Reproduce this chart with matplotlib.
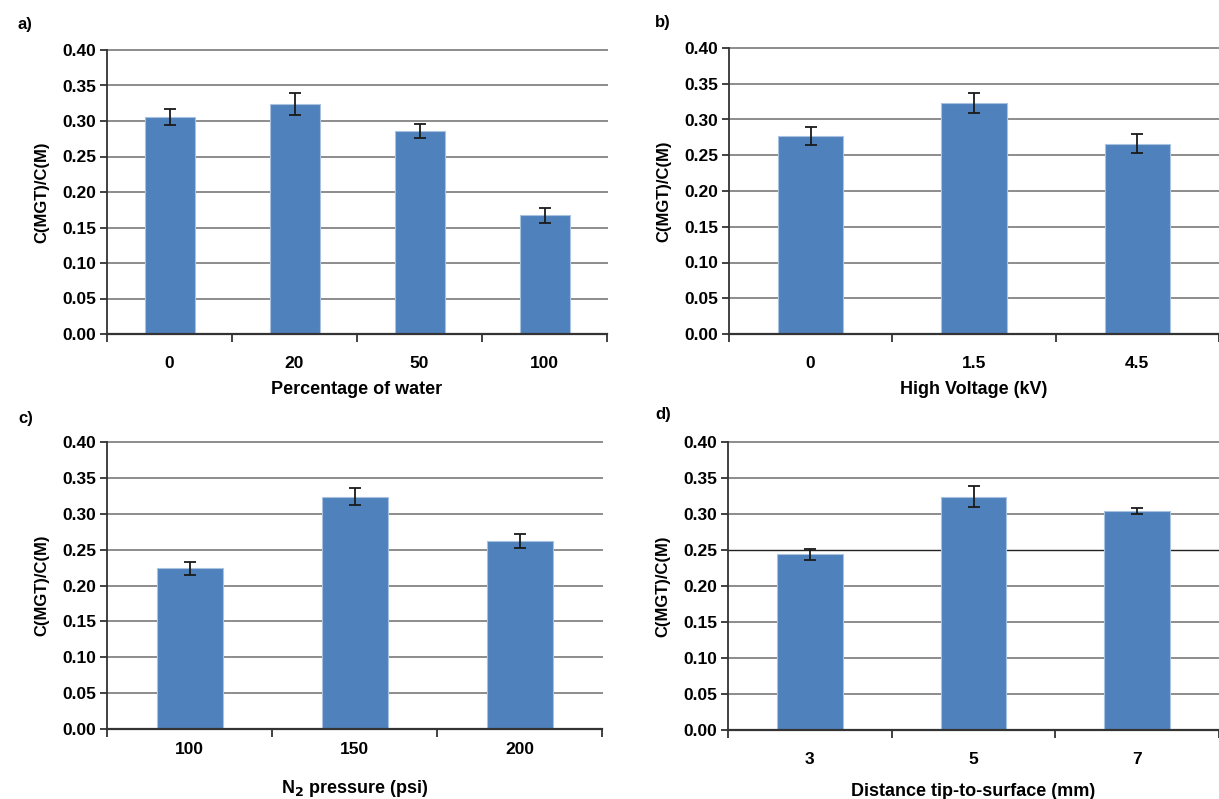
import matplotlib
matplotlib.use('Agg')
import matplotlib.pyplot as plt
import numpy as np

plt.rcParams['font.family'] = ['Liberation Sans', 'DejaVu Sans']
plt.rcParams['font.weight'] = 'bold'

# data
water_cats = ['0', '20', '50', '100']
water_vals = [0.306, 0.324, 0.286, 0.167]
water_err = [0.011, 0.015, 0.010, 0.011]

voltage_cats = ['0', '1.5', '4.5']
voltage_vals = [0.277, 0.323, 0.266]
voltage_err = [0.012, 0.0135, 0.0135]

pressure_cats = ['100', '150', '200']
pressure_vals = [0.224, 0.324, 0.262]
pressure_err = [0.009, 0.0125, 0.0095]

dist_cats = ['3', '5', '7']
dist_vals = [0.244, 0.324, 0.304]
dist_err = [0.008, 0.0145, 0.0045]

W, H = 1219, 799
bar_color = '#4F81BD'


def px_axes(fig, left, right, top, bottom):
    return fig.add_axes([left / W, (H - bottom) / H, (right - left) / W, (bottom - top) / H])


def draw_panel(ax, cats, vals, err, xlabel, xmax=None, dark_grid=None, tickpad=16, labelpad=7):
    x = np.arange(len(cats))
    ax.set_axisbelow(True)
    ax.bar(x, vals, width=0.4, color=bar_color, edgecolor='#a9c2e0', linewidth=0.8, zorder=2)
    ax.errorbar(x, vals, yerr=err, fmt='none', ecolor='#1a1a1a', elinewidth=1.3,
                capsize=4.5, capthick=1.3, zorder=3)
    ax.set_ylim(0, 0.40)
    ax.set_yticks(np.arange(0, 0.401, 0.05))
    ax.set_yticklabels(['%.2f' % v for v in np.arange(0, 0.401, 0.05)])
    ax.set_xlim(-0.5, xmax if xmax is not None else len(cats) - 0.5)
    ax.set_xticks(x)
    ax.set_xticklabels(cats)
    ax.set_xticks(np.arange(-0.5, len(cats), 1.0), minor=True)
    ax.tick_params(axis='x', which='major', length=0, pad=tickpad, labelsize=12.5)
    ax.tick_params(axis='x', which='minor', length=6, width=1.3, color='#333333', direction='out')
    ax.tick_params(axis='y', length=5, width=1.3, color='#333333', labelsize=12.5, pad=3)
    for t in ax.get_xticklabels() + ax.get_yticklabels():
        t.set_fontweight('bold')
    ax.grid(axis='y', color='#8c8c8c', linewidth=1.4)
    for gl in ax.get_ygridlines():
        gl.set_clip_on(False)
    if dark_grid is not None:
        ax.get_ygridlines()[dark_grid].set_color('#222222')
        ax.get_ygridlines()[dark_grid].set_linewidth(1.0)
    ax.spines['top'].set_visible(False)
    ax.spines['right'].set_visible(False)
    ax.spines['left'].set_color('#333333')
    ax.spines['bottom'].set_color('#333333')
    ax.spines['left'].set_linewidth(1.3)
    ax.spines['bottom'].set_linewidth(1.6)
    ax.set_ylabel('C(MGT)/C(M)', fontsize=12, fontweight='bold', labelpad=9)
    ax.set_xlabel(xlabel, fontsize=13, fontweight='bold', labelpad=labelpad)


fig = plt.figure(figsize=(W / 100, H / 100), dpi=100)

ax_a = px_axes(fig, 107, 607, 50, 334)
draw_panel(ax_a, water_cats, water_vals, water_err, 'Percentage of water')

ax_b = px_axes(fig, 729, 1219, 48, 334)
draw_panel(ax_b, voltage_cats, voltage_vals, voltage_err, 'High Voltage (kV)', xmax=2.49)

ax_c = px_axes(fig, 107, 602, 442, 729)
draw_panel(ax_c, pressure_cats, pressure_vals, pressure_err, r'N$_\mathbf{2}$ pressure (psi)',
           tickpad=9.5, labelpad=15)

ax_d = px_axes(fig, 728, 1219, 442, 730)
draw_panel(ax_d, dist_cats, dist_vals, dist_err, 'Distance tip-to-surface (mm)', xmax=2.49,
           dark_grid=5, labelpad=11)

for lab, xp, yp in [('a)', 18, 25), ('b)', 655, 22), ('c)', 18, 418), ('d)', 655, 415)]:
    fig.text(xp / W, 1 - yp / H, lab, fontsize=12, fontweight='bold', va='center', ha='left')

fig.savefig('out.png', dpi=100)
